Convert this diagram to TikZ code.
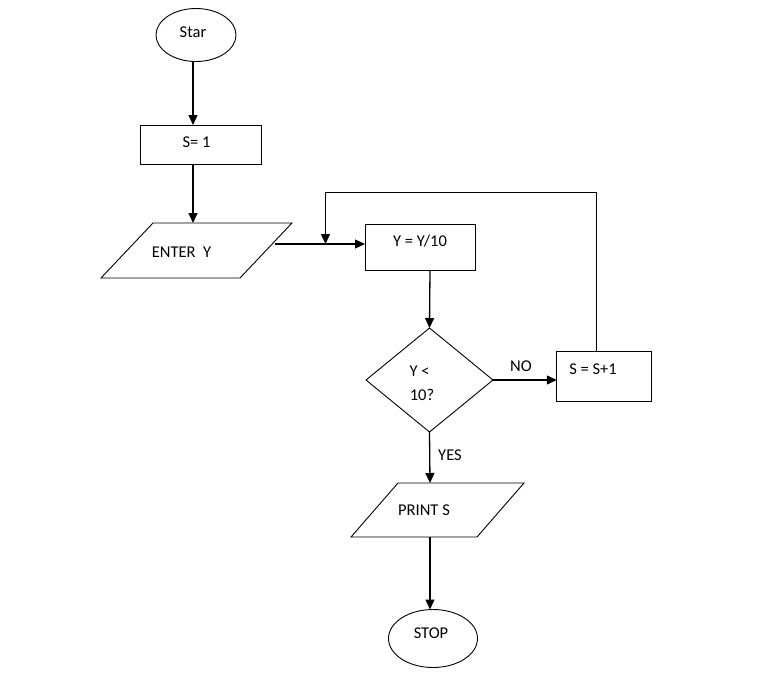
\documentclass[tikz,border=0pt]{standalone}
\usepackage{fontspec}
\setmainfont{Carlito}
\usetikzlibrary{shapes.geometric,arrows.meta,calc}
\begin{document}
\begin{tikzpicture}[x=1pt,y=-1pt,
  every node/.style={font=\fontsize{16.5}{18}\selectfont},
  shp/.style={draw,line width=0.9pt,inner sep=0pt,outer sep=0pt},
  oval/.style={shp,ellipse},
  box/.style={shp,rectangle},
  pbox/.style={rectangle,inner sep=0pt,outer sep=0pt},
  dia/.style={shp,diamond},
  txt/.style={inner sep=0pt},
  arr/.style={line width=1.3pt,-{Triangle[length=10pt,width=9pt]}},
  thin/.style={line width=0.9pt}]
\useasboundingbox (0,0) rectangle (779,681);
% shapes
\node[oval,minimum width=80pt,minimum height=53pt] (star) at (196,35) {};
\node[box,minimum width=121pt,minimum height=39pt] (s1) at (200.5,144.5) {};
\node[pbox,minimum width=191pt,minimum height=55pt] (enter) at (196.5,250.5) {};
\draw[line width=0.9pt] (enter.south west) -- ($(enter.north west)+(52,0)$) -- (enter.north east) -- ($(enter.south east)-(52,0)$) -- cycle;
\node[box,minimum width=110pt,minimum height=46pt] (yr) at (420,247) {};
\node[dia,minimum width=127pt,minimum height=104pt] (dec) at (429.5,380) {};
\node[box,minimum width=94.5pt,minimum height=49.5pt] (sp) at (604,376.3) {};
\node[pbox,minimum width=173pt,minimum height=54pt] (print) at (437.5,510) {};
\draw[line width=0.9pt] (print.south west) -- ($(print.north west)+(47,0)$) -- (print.north east) -- ($(print.south east)-(47,0)$) -- cycle;
\node[oval,minimum width=89pt,minimum height=58pt] (stop) at (433,638.5) {};
% texts
\node[txt] (tstar) at (193,32.5) {Star};
\node[txt] (ts1) at (196.5,142) {S= 1};
\node[txt] (tenter) at (181.5,252) {ENTER\ \ Y};
\node[txt] (tyr) at (420,241) {Y = Y/10};
\node[txt] (td1) at (419.5,371) {Y <};
\node[txt] (td2) at (422,395) {10?};
\node[txt] (tsp) at (593,369) {S = S+1};
\node[txt] (tprint) at (424,510.5) {PRINT S};
\node[txt] (tstop) at (431,633.5) {STOP};
\node[txt] (tno) at (521,366) {NO};
\node[txt] (tyes) at (450,455.5) {YES};
% connectors
\coordinate (a1) at (193,0);
\coordinate (a2) at (430,0);
\coordinate (j) at (325.5,244);
\coordinate (loopc) at (325.5,192);
\coordinate (estart) at (274.5,244);
\draw[arr] (a1 |- star.south) -- (a1 |- s1.north);
\draw[arr] (a1 |- s1.south) -- (a1 |- enter.north);
\draw[arr] (estart) -- (estart -| yr.west);
\draw[arr] (a2 |- yr.south) -- (dec.north);
\draw[arr] (dec.east) -- (dec.east -| sp.west);
\draw[arr] (dec.south) -- (a2 |- print.north);
\draw[arr] (a2 |- print.south) -- (a2 |- stop.north);
\draw[thin] ($(sp.north)+(-8,0)$) |- (loopc);
\draw[arr] (loopc) -- (j);
\end{tikzpicture}
\end{document}
